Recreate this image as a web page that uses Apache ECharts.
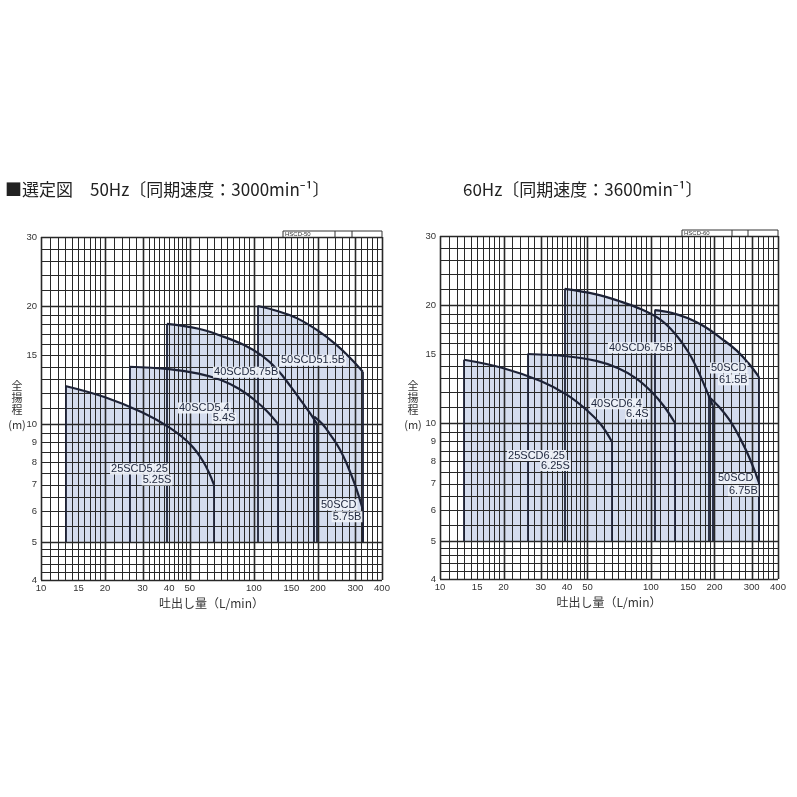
<!DOCTYPE html>
<html><head><meta charset="utf-8">
<script src="https://cdn.jsdelivr.net/npm/echarts@6/dist/echarts.min.js"></script>
<style>html,body{margin:0;padding:0;background:#fff}#c{width:797px;height:797px}</style>
</head><body><div id="c"></div>
<script>
// ---------- tick labels ----------
const xTickLabels = [10, 15, 20, 30, 40, 50, 100, 150, 200, 300, 400];
const yTickLabels = [4, 5, 6, 7, 8, 9, 10, 15, 20, 30];

// ---------- graph-paper rulings ----------
const xGridLines = [10,11,12,13,14,15,16,17,18,19,20,22,24,26,28,30,32,34,36,38,40,42,44,46,48,50,
  55,60,65,70,75,80,85,90,95,100,110,120,130,140,150,160,170,180,190,200,
  220,240,260,280,300,320,340,360,380,400];
const yGridLines = [4,4.2,4.4,4.6,4.8,5,5.5,6,6.5,7,7.5,8,8.5,9,9.5,10,11,12,13,14,15,16,17,18,19,20,22,24,26,28,30];
const xMajor = [10, 20, 30, 50, 100, 200, 300, 400];
const yMajor = [4, 5, 10, 20, 30];

// ---------- lower limit of every selection range (m) ----------
const baseHead = 5;

// ---------- 50Hz ----------
const flow50_25 = [13, 20, 30, 40, 50, 58, 65];
const head50_25 = [12.5, 11.7, 10.7, 9.8, 8.9, 8.0, 7.0];
const flow50_40a = [26, 40, 55, 70, 85, 100, 115, 130];
const head50_40a = [14.0, 13.8, 13.45, 12.95, 12.3, 11.55, 10.8, 10.0];
const flow50_40b = [39, 55, 70, 90, 110, 130, 150, 170, 185, 198];
const head50_40b = [18.0, 17.5, 16.8, 15.9, 14.9, 13.7, 12.4, 11.3, 10.6, 10.0];
const flow50_50a = [104, 130, 160, 200, 245, 285, 325];
const head50_50a = [20.0, 19.4, 18.6, 17.3, 15.9, 14.7, 13.6];
const flow50_50b = [192, 210, 230, 254, 275, 300, 325];
const head50_50b = [10.45, 10.0, 9.35, 8.6, 7.85, 6.95, 6.05];

const labelText50 = ['25SCD5.25', '5.25S', '40SCD5.4', '5.4S', '40SCD5.75B', '50SCD51.5B', '50SCD', '5.75B'];
const labelFlow50 = [21.1, 29.7, 44.0, 63.4, 64.3, 132.6, 204.4, 232];
const labelHead50 = [7.68, 7.2, 10.98, 10.35, 13.56, 14.55, 6.22, 5.8];

// ---------- 60Hz ----------
const flow60_25 = [13, 20, 30, 40, 50, 58, 65];
const head60_25 = [14.5, 13.8, 12.8, 11.8, 10.75, 9.9, 9.0];
const flow60_40a = [26, 40, 55, 70, 85, 100, 115, 130];
const head60_40a = [15.0, 14.8, 14.4, 13.8, 13.0, 12.05, 11.05, 10.0];
const flow60_40b = [39, 55, 70, 90, 110, 130, 150, 165, 180, 196];
const head60_40b = [22.0, 21.3, 20.5, 19.5, 18.4, 16.9, 15.2, 13.8, 12.4, 11.1];
const flow60_50a = [104, 125, 150, 180, 215, 255, 290, 325];
const head60_50a = [19.4, 19.1, 18.5, 17.6, 16.45, 15.3, 14.2, 13.1];
const flow60_50b = [187, 210, 235, 260, 290, 325];
const head60_50b = [11.7, 11.0, 10.2, 9.3, 8.25, 7.05];

const labelText60 = ['40SCD6.75B', '50SCD', '61.5B', '40SCD6.4', '6.4S', '25SCD6.25', '6.25S', '50SCD', '6.75B'];
const labelFlow60 = [62.5, 190.4, 207.7, 51.4, 75.3, 20.8, 29.8, 205.5, 231.7];
const labelHead60 = [15.55, 13.82, 12.89, 11.2, 10.56, 8.26, 7.79, 7.22, 6.72];

// ---------- styling ----------
const X_MIN = 10, X_MAX = 400, Y_MIN = 4, Y_MAX = 30;
const FILL = '#d4dcee', INK = '#1d2236', GRIDC = '#282828', TXT = '#333';
const JP = '"Noto Sans CJK JP", "Noto Sans", sans-serif';
const LAT = '"Liberation Sans", Arial, sans-serif';
const SMOOTH = 0.4;

const regions50 = [
  {flow: flow50_25, head: head50_25}, {flow: flow50_40a, head: head50_40a},
  {flow: flow50_40b, head: head50_40b}, {flow: flow50_50a, head: head50_50a},
  {flow: flow50_50b, head: head50_50b}];
const regions60 = [
  {flow: flow60_25, head: head60_25}, {flow: flow60_40a, head: head60_40a},
  {flow: flow60_40b, head: head60_40b}, {flow: flow60_50a, head: head60_50a},
  {flow: flow60_50b, head: head60_50b}];

function panelSeries(idx, regions, lText, lFlow, lHead) {
  const s = [];
  const ax = {xAxisIndex: idx, yAxisIndex: idx, silent: true, animation: false};
  regions.forEach(r => {
    const pts = r.flow.map((f, i) => [f, r.head[i]]);
    s.push(Object.assign({type: 'line', data: pts, smooth: SMOOTH, symbol: 'none',
      lineStyle: {width: 0, opacity: 0}, areaStyle: {color: FILL, opacity: 1, origin: baseHead}, z: 1}, ax));
  });
  // vertical rulings
  s.push(Object.assign({type: 'custom', z: 2, data: xGridLines.map(v => [v, Y_MIN]),
    renderItem: (p, api) => {
      const v = api.value(0);
      const a = api.coord([v, Y_MIN]), b = api.coord([v, Y_MAX]);
      const x = Math.round(a[0]) + 0.5;
      return {type: 'line', shape: {x1: x, y1: a[1], x2: x, y2: b[1]},
        style: {stroke: GRIDC, lineWidth: xMajor.indexOf(v) >= 0 ? 1.6 : 1}};
    }}, ax));
  // horizontal rulings
  s.push(Object.assign({type: 'custom', z: 2, data: yGridLines.map(v => [X_MIN, v]),
    renderItem: (p, api) => {
      const v = api.value(1);
      const a = api.coord([X_MIN, v]), b = api.coord([X_MAX, v]);
      const y = Math.round(a[1]) + 0.5;
      return {type: 'line', shape: {x1: a[0], y1: y, x2: b[0], y2: y},
        style: {stroke: GRIDC, lineWidth: yMajor.indexOf(v) >= 0 ? 1.6 : 1}};
    }}, ax));
  // curves + edges
  regions.forEach(r => {
    const pts = r.flow.map((f, i) => [f, r.head[i]]);
    const n = r.flow.length - 1;
    s.push(Object.assign({type: 'line', data: pts, smooth: SMOOTH, symbol: 'none',
      lineStyle: {color: INK, width: 2.2}, z: 3,
      markLine: {symbol: ['none', 'none'], silent: true, animation: false, label: {show: false},
        lineStyle: {color: INK, width: 1.8, type: 'solid'},
        data: [[{coord: [r.flow[0], baseHead]}, {coord: [r.flow[0], r.head[0]]}],
               [{coord: [r.flow[n], r.head[n]]}, {coord: [r.flow[n], baseHead]}]]}}, ax));
  });
  // tick labels
  s.push(Object.assign({type: 'custom', z: 4, data: xTickLabels.map(v => [v, Y_MIN]),
    renderItem: (p, api) => {
      const v = api.value(0); const a = api.coord([v, Y_MIN]);
      return {type: 'text', x: a[0], y: a[1] + 8,
        style: {text: String(v), fill: TXT, font: '9.5px ' + LAT, align: 'center', verticalAlign: 'middle'}};
    }}, ax));
  s.push(Object.assign({type: 'custom', z: 4, data: yTickLabels.map(v => [X_MIN, v]),
    renderItem: (p, api) => {
      const v = api.value(1); const a = api.coord([X_MIN, v]);
      return {type: 'text', x: a[0] - 4, y: a[1],
        style: {text: String(v), fill: TXT, font: '9.5px ' + LAT, align: 'right', verticalAlign: 'middle'}};
    }}, ax));
  // model labels
  s.push(Object.assign({type: 'custom', z: 6, data: lFlow.map((f, i) => [f, lHead[i]]),
    renderItem: (p, api) => {
      const a = api.coord([api.value(0), api.value(1)]);
      return {type: 'text', x: a[0], y: a[1], z2: 10,
        style: {text: lText[p.dataIndex], fill: '#222a40', font: '11px ' + LAT, align: 'left', verticalAlign: 'middle',
          backgroundColor: 'rgba(238,241,248,0.95)', padding: [0, 1, 0, 1]}};
    }}, ax));
  return s;
}

function xAxisCfg(idx) {
  return {type: 'log', logBase: 10, min: X_MIN, max: X_MAX, gridIndex: idx,
    axisLine: {show: false}, axisTick: {show: false}, axisLabel: {show: false}, splitLine: {show: false},
    name: '吐出し量（L/min）', nameLocation: 'middle', nameGap: 17,
    nameTextStyle: {fontSize: 12, color: TXT, fontFamily: JP}};
}
function yAxisCfg(idx) {
  return {type: 'log', logBase: 10, min: Y_MIN, max: Y_MAX, gridIndex: idx,
    axisLine: {show: false}, axisTick: {show: false}, axisLabel: {show: false}, splitLine: {show: false}};
}

function hsBox(x, y, w, d1, d2, label) {
  return {type: 'group', children: [
    {type: 'rect', shape: {x: x, y: y, width: w, height: 6.5}, style: {fill: '#fff', stroke: '#333', lineWidth: 1}},
    {type: 'line', shape: {x1: d1, y1: y, x2: d1, y2: y + 6.5}, style: {stroke: '#333', lineWidth: 1}},
    {type: 'line', shape: {x1: d2, y1: y, x2: d2, y2: y + 6.5}, style: {stroke: '#333', lineWidth: 1}},
    {type: 'text', x: x + 2, y: y + 3.4, style: {text: label, font: '6px ' + LAT, fill: '#333', verticalAlign: 'middle'}}
  ]};
}

function yName(x) {
  const chars = ['全', '揚', '程'];
  const els = chars.map((c, i) => ({type: 'text', x: x, y: 386 + i * 12,
    style: {text: c, font: '11px ' + JP, fill: TXT, align: 'center', verticalAlign: 'middle'}}));
  els.push({type: 'text', x: x, y: 425, style: {text: '(m)', font: '11px ' + JP, fill: TXT, align: 'center', verticalAlign: 'middle'}});
  return els;
}

const option = {
  backgroundColor: '#fff',
  animation: false,
  grid: [
    {left: 41, top: 237, width: 341, height: 343},
    {left: 440, top: 236, width: 338, height: 343}
  ],
  xAxis: [xAxisCfg(0), xAxisCfg(1)],
  yAxis: [yAxisCfg(0), yAxisCfg(1)],
  series: panelSeries(0, regions50, labelText50, labelFlow50, labelHead50)
    .concat(panelSeries(1, regions60, labelText60, labelFlow60, labelHead60)),
  graphic: [
    {type: 'text', x: 5, y: 190, style: {text: '■選定図　50Hz〔同期速度：3000min⁻¹〕', font: '17px ' + JP, fill: '#222', verticalAlign: 'middle'}},
    {type: 'text', x: 463, y: 190, style: {text: '60Hz〔同期速度：3600min⁻¹〕', font: '17px ' + JP, fill: '#222', verticalAlign: 'middle'}},
    hsBox(283, 231, 99, 335, 352, 'HSCD-50'),
    hsBox(682, 230, 96, 732, 748, 'HSCD-60')
  ].concat(yName(17), yName(413))
};

const chart = echarts.init(document.getElementById('c'), null, {renderer: 'canvas'});
chart.setOption(option);
</script>
</body></html>
